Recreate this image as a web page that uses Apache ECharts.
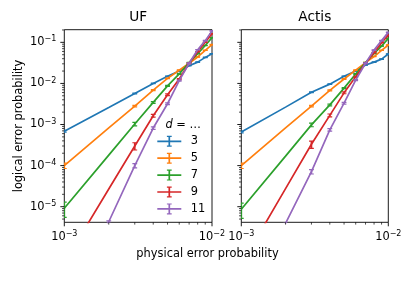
<!DOCTYPE html>
<html><head><meta charset="utf-8">
<script src="https://cdn.jsdelivr.net/npm/echarts@6/dist/echarts.min.js"></script>
<style>html,body{margin:0;padding:0;background:#fff}#c{width:415px;height:283px}</style>
</head><body><div id="c"></div>
<script>
// physical error probabilities
const p = [0.001, 0.002, 0.003, 0.004, 0.005, 0.006, 0.007, 0.008, 0.009, 0.010];
const distances = ['3', '5', '7', '9', '11'];

// UF decoder: logical error probability
const uf3  = [6.9e-4, 2.6e-3, 5.7e-3, 1.0e-2, 1.5e-2, 2.0e-2, 2.7e-2, 3.3e-2, 4.3e-2, 5.3e-2];
const uf5  = [1.0e-4, 8.3e-4, 2.8e-3, 6.9e-3, 1.33e-2, 2.1e-2, 3.1e-2, 4.4e-2, 6.4e-2, 8.8e-2];
const uf7  = [9.2e-6, 1.8e-4, 1.03e-3, 3.45e-3, 8.7e-3, 1.7e-2, 3.2e-2, 5.3e-2, 8.4e-2, 1.3e-1];
const uf9  = [4.3e-7, 2.7e-5, 3.0e-4, 1.64e-3, 5.3e-3, 1.28e-2, 3.1e-2, 5.9e-2, 1.0e-1, 1.62e-1];
const uf11 = [3.0e-8, 4.3e-6, 1.0e-4, 8.2e-4, 3.2e-3, 1.17e-2, 3.1e-2, 6.6e-2, 1.1e-1, 1.9e-1];

// Actis decoder: logical error probability
const actis3  = [6.6e-4, 2.65e-3, 6.1e-3, 9.6e-3, 1.5e-2, 2.0e-2, 2.8e-2, 3.3e-2, 3.9e-2, 5.2e-2];
const actis5  = [1.0e-4, 8.3e-4, 2.8e-3, 6.8e-3, 1.28e-2, 2.1e-2, 3.2e-2, 4.5e-2, 6.4e-2, 8.6e-2];
const actis7  = [8.7e-6, 1.7e-4, 9.8e-4, 3.0e-3, 7.7e-3, 1.7e-2, 3.2e-2, 5.4e-2, 8.1e-2, 1.25e-1];
const actis9  = [3.9e-7, 2.75e-5, 3.3e-4, 1.67e-3, 5.9e-3, 1.45e-2, 3.1e-2, 5.6e-2, 9.8e-2, 1.5e-1];
const actis11 = [2.0e-8, 3.9e-6, 7.1e-5, 7.4e-4, 3.3e-3, 1.2e-2, 3.1e-2, 6.5e-2, 1.1e-1, 1.75e-1];

// relative error bar sizes (0 = no error bar drawn)
const err3  = [0.05, 0, 0.02, 0.015, 0.012, 0.01, 0.01, 0.01, 0.01, 0.01];
const err5  = [0.15, 0, 0.04, 0.03, 0.02, 0.015, 0.012, 0.01, 0.01, 0.01];
const err7  = [0.4, 0, 0.1, 0.05, 0.03, 0.02, 0.015, 0.012, 0.01, 0.01];
const err9  = [0.5, 0, 0.2, 0.08, 0.05, 0.03, 0.02, 0.015, 0.01, 0.01];
const err11 = [0.5, 0.05, 0.12, 0.07, 0.05, 0.03, 0.02, 0.015, 0.01, 0.01];

// axis ticks
const xMajorTicks = [0.001, 0.01];
const xMinorTicks = [0.002, 0.003, 0.004, 0.005, 0.006, 0.007, 0.008, 0.009];
const yMajorTicks = [1e-5, 1e-4, 1e-3, 1e-2, 1e-1];
const minorMultipliers = [2, 3, 4, 5, 6, 7, 8, 9];
const yDecades = [1e-6, 1e-5, 1e-4, 1e-3, 1e-2, 1e-1];

const panelTitles = ['UF', 'Actis'];
const xMin = 0.001, xMax = 0.01, yMin = 4.17e-6, yMax = 0.203;

const F = 'DejaVu Sans';
const FS = 11.4;       // labels, ticks, legend
const FT = 13.7;       // panel titles
const colors = ['#1f77b4', '#ff7f0e', '#2ca02c', '#d62728', '#9467bd'];
const panels = [[uf3, uf5, uf7, uf9, uf11], [actis3, actis5, actis7, actis9, actis11]];
const errs = [err3, err5, err7, err9, err11];

const yMinorTicks = [];
yDecades.forEach(d => minorMultipliers.forEach(m => {
  const v = d * m;
  if (v >= yMin && v <= yMax) yMinorTicks.push(v);
}));

function labelStyle(v, align, va) {
  const e = Math.round(Math.log10(v));
  return {
    text: '{b|10}{s|\u2212' + (-e) + '}',
    align: align, verticalAlign: va,
    rich: {
      b: {fontSize: FS, fontFamily: F, fill: '#000', lineHeight: 14},
      s: {fontSize: 8, fontFamily: F, fill: '#000', lineHeight: 8, verticalAlign: 'top'}
    }
  };
}

function tickRender(showYLabels) {
  return function (params, api) {
    const kind = api.value(2);
    const pt = api.coord([api.value(0), api.value(1)]);
    const major = (kind === 0 || kind === 2);
    const len = major ? 4 : 2.3;
    const lw = major ? 0.9 : 0.7;
    const kids = [];
    if (kind < 2) {
      kids.push({type: 'line', shape: {x1: pt[0], y1: pt[1], x2: pt[0], y2: pt[1] + len}, style: {stroke: '#000', lineWidth: lw}});
      if (major) kids.push({type: 'text', x: pt[0], y: pt[1] + len + 4, style: labelStyle(api.value(0), 'center', 'top')});
    } else {
      kids.push({type: 'line', shape: {x1: pt[0] - len, y1: pt[1], x2: pt[0], y2: pt[1]}, style: {stroke: '#000', lineWidth: lw}});
      if (major && showYLabels) kids.push({type: 'text', x: pt[0] - len - 4, y: pt[1], style: labelStyle(api.value(1), 'right', 'middle')});
    }
    return {type: 'group', children: kids};
  };
}

function errRender(params, api) {
  const x = api.value(0), y = api.value(1), e = api.value(2);
  if (!(e > 0)) return {type: 'group', children: []};
  const lo = api.coord([x, y * (1 - e)]);
  const hi = api.coord([x, y * (1 + e)]);
  const c = api.visual('color');
  const cw = 2.4;
  return {type: 'group', children: [
    {type: 'line', shape: {x1: lo[0], y1: lo[1], x2: hi[0], y2: hi[1]}, style: {stroke: c, lineWidth: 1.7}},
    {type: 'line', shape: {x1: lo[0] - cw, y1: lo[1], x2: lo[0] + cw, y2: lo[1]}, style: {stroke: c, lineWidth: 1.2}},
    {type: 'line', shape: {x1: hi[0] - cw, y1: hi[1], x2: hi[0] + cw, y2: hi[1]}, style: {stroke: c, lineWidth: 1.2}}
  ]};
}

const grids = [
  {left: 64.3, top: 29.7, width: 147.7, height: 192.6},
  {left: 241.3, top: 29.7, width: 147.0, height: 192.6}
].map(g => Object.assign(g, {show: true, borderColor: '#000', borderWidth: 0.9, backgroundColor: 'transparent'}));

const hidden = {axisLine: {show: false}, axisTick: {show: false}, axisLabel: {show: false}, splitLine: {show: false}};
const xAxes = [0, 1].map(i => Object.assign({type: 'log', logBase: 10, min: xMin, max: xMax, gridIndex: i}, hidden));
const yAxes = [0, 1].map(i => Object.assign({type: 'log', logBase: 10, min: yMin, max: yMax, gridIndex: i}, hidden));
yAxes[0].name = 'logical error probability';
yAxes[0].nameLocation = 'middle';
yAxes[0].nameGap = 39.3;
yAxes[0].nameTextStyle = {fontFamily: F, fontSize: FS, color: '#000'};

const series = [];
const tickData = [];
xMajorTicks.forEach(v => tickData.push([v, yMin, 0]));
xMinorTicks.forEach(v => tickData.push([v, yMin, 1]));
yMajorTicks.forEach(v => tickData.push([xMin, v, 2]));
yMinorTicks.forEach(v => tickData.push([xMin, v, 3]));

panels.forEach((vals, g) => {
  vals.forEach((ys, k) => {
    series.push({
      type: 'line', name: distances[k], xAxisIndex: g, yAxisIndex: g,
      data: p.map((x, i) => [x, ys[i]]),
      symbol: 'none', color: colors[k], lineStyle: {width: 1.7, color: colors[k]},
      clip: true, silent: true, z: 2 + k
    });
    series.push({
      type: 'custom', name: distances[k], xAxisIndex: g, yAxisIndex: g,
      data: p.map((x, i) => [x, ys[i], errs[k][i]]),
      renderItem: errRender, color: colors[k], clip: true, silent: true, z: 2 + k
    });
  });
  series.push({
    type: 'custom', xAxisIndex: g, yAxisIndex: g, data: tickData,
    renderItem: tickRender(g === 0), clip: false, silent: true, z: 20
  });
});

const iconPath = 'path://M0 4.65H24V6.35H0Z M11.15 0H12.85V11H11.15Z M9.6 0H14.4V1.2H9.6Z M9.6 9.8H14.4V11H9.6Z';

const option = {
  animation: false,
  backgroundColor: '#fff',
  title: [
    {text: panelTitles[0], left: 138.2, top: 10.3, textAlign: 'center', padding: 0, textStyle: {fontFamily: F, fontSize: FT, fontWeight: 'normal', color: '#000'}},
    {text: panelTitles[1], left: 314.8, top: 10.3, textAlign: 'center', padding: 0, textStyle: {fontFamily: F, fontSize: FT, fontWeight: 'normal', color: '#000'}},
    {text: 'physical error probability', left: 207.5, top: 248.5, textAlign: 'center', padding: 0, textStyle: {fontFamily: F, fontSize: FS, fontWeight: 'normal', color: '#000'}},
    {text: '{i|d} = \u2026', left: 165.5, top: 119.8, padding: 0, textStyle: {fontFamily: F, fontSize: FS, fontWeight: 'normal', color: '#000', rich: {i: {fontFamily: F, fontSize: FS, fontStyle: 'italic', color: '#000'}}}}
  ],
  legend: {
    data: distances, orient: 'vertical', left: 157.3, top: 135.8, padding: 0,
    itemWidth: 24, itemHeight: 11, itemGap: 5.9, icon: iconPath, selectedMode: false,
    itemStyle: {borderWidth: 0},
    textStyle: {fontFamily: F, fontSize: FS, color: '#000', lineHeight: 11, padding: [0, 0, 0, 4.5]}
  },
  grid: grids,
  xAxis: xAxes,
  yAxis: yAxes,
  series: series
};

const chart = echarts.init(document.getElementById('c'), null, {renderer: 'canvas'});
chart.setOption(option);
</script>
</body></html>
